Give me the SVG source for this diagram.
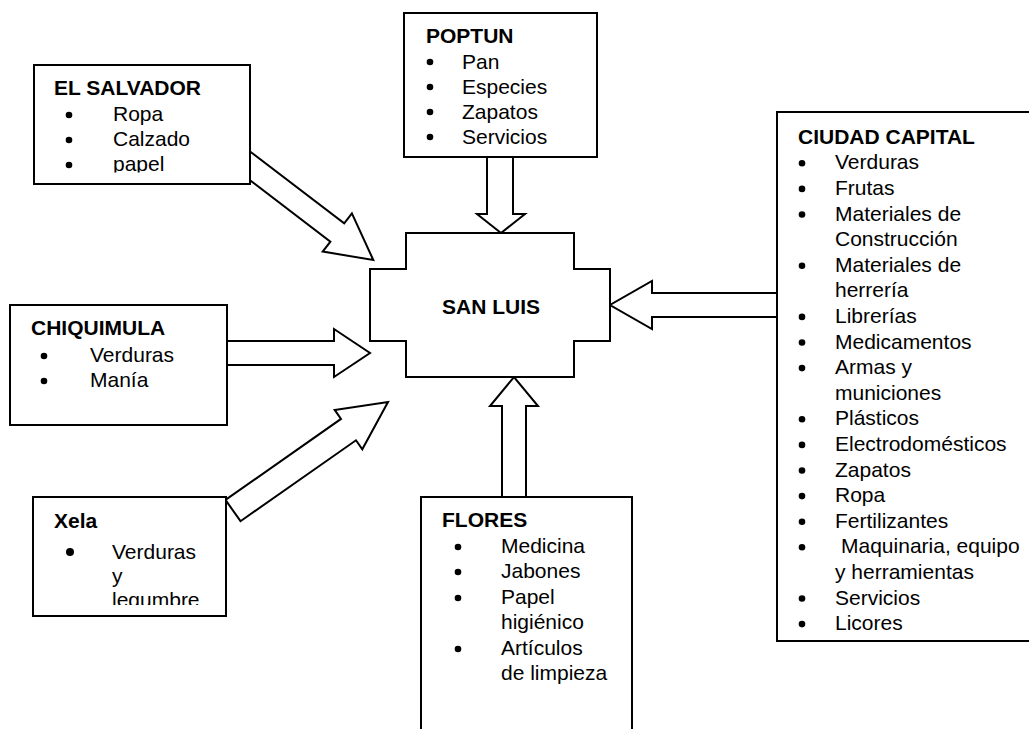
<svg xmlns="http://www.w3.org/2000/svg" width="1029" height="729" viewBox="0 0 1029 729">
<style>
.box{fill:#fff;stroke:#000;stroke-width:2}
.arr{fill:#fff;stroke:#000;stroke-width:2;stroke-linejoin:miter}
.t{font-family:"Liberation Sans",Arial,sans-serif;font-size:21px;fill:#000}
.b{font-weight:bold}
.dot{fill:#000}
</style>
<defs>
<clipPath id="clipES"><rect x="34" y="65" width="216" height="107.5"/></clipPath>
<clipPath id="clipXela"><rect x="33" y="497" width="193" height="108"/></clipPath>
</defs>
<rect width="1029" height="729" fill="#fff"/>
<g id="connectors">
<polygon class="arr" points="250,151.5 344.2,223.4 351.9,213.4 373.3,260 322.7,251.6 330.4,241.6 250,180.2"/>
<polygon class="arr" points="487,157 513,157 513,214 525,214 501,233 477,214 487,214"/>
<polygon class="arr" points="777,293 652,293 652,281 610,305 652,329 652,317 777,317"/>
<polygon class="arr" points="227,341 334,341 334,329 370,353 334,377 334,365 227,365"/>
<polygon class="arr" points="225.5,499.9 341,418.9 334.7,409.9 388,402 362.3,449.3 356,440.3 240.5,521.2"/>
<polygon class="arr" points="502,497 502,406 490,406 514,377 538,406 526,406 526,497"/>
</g>
<g id="san-luis">
<polygon class="box" points="406,233 574,233 574,269 610,269 610,341 574,341 574,377 406,377 406,341 370,341 370,269 406,269"/>
<text class="t b" x="442" y="314">SAN LUIS</text>
</g>
<g id="el-salvador">
<rect class="box" x="34" y="65" width="216" height="119"/>
<g clip-path="url(#clipES)">
<text class="t b" x="54" y="95">EL SALVADOR</text>
<circle class="dot" cx="69" cy="115" r="3.3"/>
<circle class="dot" cx="69" cy="140" r="3.3"/>
<circle class="dot" cx="69" cy="165" r="3.3"/>
<text class="t" x="113" y="121">Ropa</text>
<text class="t" x="113" y="146">Calzado</text>
<text class="t" x="113" y="171">papel</text>
</g>
</g>
<g id="poptun">
<rect class="box" x="404" y="13" width="193" height="144"/>
<text class="t b" x="426" y="43">POPTUN</text>
<circle class="dot" cx="430" cy="62" r="3.3"/>
<circle class="dot" cx="430" cy="87" r="3.3"/>
<circle class="dot" cx="430" cy="112" r="3.3"/>
<circle class="dot" cx="430" cy="137" r="3.3"/>
<text class="t" x="462" y="68.5">Pan</text>
<text class="t" x="462" y="93.5">Especies</text>
<text class="t" x="462" y="118.5">Zapatos</text>
<text class="t" x="462" y="143.5">Servicios</text>
</g>
<g id="ciudad-capital">
<rect class="box" x="777" y="112" width="300" height="529"/>
<text class="t b" x="798" y="144">CIUDAD CAPITAL</text>
<g class="t">
<text x="835" y="169.3">Verduras</text>
<text x="835" y="194.9">Frutas</text>
<text x="835" y="220.5">Materiales de</text>
<text x="835" y="246.1">Construcción</text>
<text x="835" y="271.7">Materiales de</text>
<text x="835" y="297.3">herrería</text>
<text x="835" y="322.9">Librerías</text>
<text x="835" y="348.5">Medicamentos</text>
<text x="835" y="374.1">Armas y</text>
<text x="835" y="399.7">municiones</text>
<text x="835" y="425.3">Plásticos</text>
<text x="835" y="450.9">Electrodomésticos</text>
<text x="835" y="476.5">Zapatos</text>
<text x="835" y="502.1">Ropa</text>
<text x="835" y="527.7">Fertilizantes</text>
<text x="841" y="553.3">Maquinaria, equipo</text>
<text x="835" y="578.9">y herramientas</text>
<text x="835" y="604.5">Servicios</text>
<text x="835" y="630.1">Licores</text>
</g>
<g>
<circle class="dot" cx="802" cy="163.3" r="3.3"/>
<circle class="dot" cx="802" cy="188.9" r="3.3"/>
<circle class="dot" cx="802" cy="214.5" r="3.3"/>
<circle class="dot" cx="802" cy="265.7" r="3.3"/>
<circle class="dot" cx="802" cy="316.9" r="3.3"/>
<circle class="dot" cx="802" cy="342.5" r="3.3"/>
<circle class="dot" cx="802" cy="368.1" r="3.3"/>
<circle class="dot" cx="802" cy="419.3" r="3.3"/>
<circle class="dot" cx="802" cy="444.9" r="3.3"/>
<circle class="dot" cx="802" cy="470.5" r="3.3"/>
<circle class="dot" cx="802" cy="496.1" r="3.3"/>
<circle class="dot" cx="802" cy="521.7" r="3.3"/>
<circle class="dot" cx="802" cy="547.3" r="3.3"/>
<circle class="dot" cx="802" cy="598.5" r="3.3"/>
<circle class="dot" cx="802" cy="624.1" r="3.3"/>
</g>
</g>
<g id="chiquimula">
<rect class="box" x="10" y="305" width="217" height="120"/>
<text class="t b" x="31" y="335">CHIQUIMULA</text>
<circle class="dot" cx="44" cy="356" r="3.3"/>
<circle class="dot" cx="44" cy="381" r="3.3"/>
<text class="t" x="90" y="362">Verduras</text>
<text class="t" x="90" y="387">Manía</text>
</g>
<g id="xela">
<rect class="box" x="33" y="497" width="193" height="119"/>
<g clip-path="url(#clipXela)">
<text class="t b" x="54" y="528">Xela</text>
<circle class="dot" cx="70" cy="552" r="4"/>
<text class="t" x="112" y="559">Verduras</text>
<text class="t" x="112" y="583">y</text>
<text class="t" x="112" y="607">legumbre</text>
</g>
</g>
<g id="flores">
<rect class="box" x="421" y="497" width="211" height="260"/>
<text class="t b" x="442" y="527">FLORES</text>
<circle class="dot" cx="458" cy="547" r="3.3"/>
<circle class="dot" cx="458" cy="572" r="3.3"/>
<circle class="dot" cx="458" cy="598" r="3.3"/>
<circle class="dot" cx="458" cy="649" r="3.3"/>
<text class="t" x="501" y="553">Medicina</text>
<text class="t" x="501" y="578">Jabones</text>
<text class="t" x="501" y="604">Papel</text>
<text class="t" x="501" y="629">higiénico</text>
<text class="t" x="501" y="655">Artículos</text>
<text class="t" x="501" y="680">de limpieza</text>
</g>
</svg>
